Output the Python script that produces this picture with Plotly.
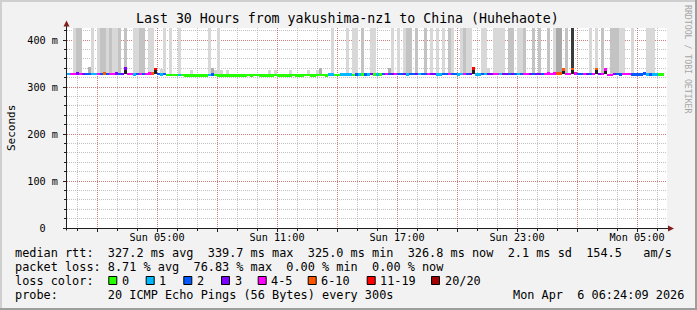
import plotly.graph_objects as go
import pandas as pd
import numpy as np

# ---------------- data ----------------
START = pd.Timestamp("2026-04-05 00:30")
END = pd.Timestamp("2026-04-06 06:30")
STEP_MIN = 9  # minutes per consolidated cell

# loss code per cell: index into LOSS_COLORS, ' ' = no data
loss_codes = (
    "1443432211" "4252443233" "4412424456" "2120000100" "0000000120"
    "0000000000" "0000000000" "0000000000" "0000000110" "0111102102"
    "1301024234" "2231223122" "4331122422" "1142361121" "3344133232"
    "1244323324" "4445554454" "2243245344" "4432244422" "222121100 "
)

median_ms = [
    328.0, 327.6, 328.4, 328.8, 328.2, 327.9, 328.5, 328.1, 327.7, 327.5,
    328.3, 328.0, 329.0, 328.6, 328.2, 328.4, 328.9, 328.1, 328.5, 339.7,
    328.6, 328.2, 327.4, 327.8, 328.4, 328.0, 328.3, 328.7, 329.1, 339.0,
    327.6, 327.3, 327.5, 326.3, 326.0, 326.2, 325.9, 326.4, 325.8, 325.3,
    325.1, 325.2, 325.0, 325.1, 325.3, 325.2, 325.1, 326.2, 326.6, 325.4,
    325.3, 325.2, 325.1, 325.2, 325.3, 325.1, 325.0, 325.2, 325.3, 325.2,
    325.4, 325.3, 326.3, 325.6, 325.3, 325.2, 325.1, 325.2, 325.3, 325.4,
    325.3, 325.2, 325.1, 325.3, 325.2, 325.4, 325.3, 325.2, 325.3, 325.5,
    325.4, 325.3, 325.2, 325.6, 325.9, 325.5, 325.3, 326.6, 326.8, 326.2,
    326.0, 326.9, 327.0, 326.8, 327.1, 326.4, 327.3, 327.0, 326.5, 327.4,
    327.2, 327.8, 326.9, 327.3, 326.8, 327.6, 328.0, 327.5, 327.9, 328.1,
    327.6, 327.8, 328.2, 327.4, 327.7, 327.9, 328.3, 327.5, 327.8, 327.6,
    328.1, 328.4, 328.0, 327.4, 327.2, 327.7, 327.9, 328.2, 327.6, 327.8,
    327.3, 327.5, 328.1, 327.8, 328.3, 339.5, 327.4, 327.2, 327.8, 327.5,
    328.0, 328.3, 328.5, 328.2, 327.6, 328.4, 328.1, 327.7, 328.2, 328.6,
    327.5, 327.8, 328.3, 328.5, 328.2, 327.8, 328.0, 328.4, 327.9, 328.6,
    328.8, 328.5, 328.7, 328.9, 329.0, 338.0, 328.6, 328.4, 338.5, 328.7,
    327.9, 327.6, 328.4, 328.1, 327.8, 328.5, 338.2, 328.3, 328.6, 337.5,
    325.8, 325.6, 327.9, 327.5, 327.3, 328.6, 328.2, 328.4, 327.4, 327.2,
    327.3, 327.1, 329.2, 327.0, 327.4, 326.9, 326.8, 326.6, 326.8, None,
]

# tall smoke (pings spread above the graph top): L light, M medium, D dark, K black
smoke_tall = (
    "  LMM   L " "LMMLMLLM M" "  LLMM LL " "  L L  L  " "       L  "
    "L         " "          " "          " "        L " "   L LL M "
    " LL     L " "L LMM M  M" " L L L ML " " LMLL   LL" "  LLLL MM "
    "LLM  M M  " "M LDD M K " "    L L M " " MMMLL  L " "   LLL    "
)
# short smoke just above the median: s light, S medium, k dark spike body
smoke_stub = (
    "       S  " "         k" "         k" " s        " " s      Ss"
    " s s      " "       s s" "    s     " "s  sS     " "          "
    "       S  " "          " "          " "     k    " "s         "
    "          " "     k  k " "      k  k" "          " "          "
)
STUB_HEIGHT = {"s": 12.0, "S": 14.0}

LOSS_COLORS = ["#26ff00", "#00b8ff", "#0059ff", "#7e00ff",
               "#ff00ff", "#ff5500", "#ff0000", "#a10000"]
LOSS_LABELS = ["0", "1", "2", "3", "4-5", "6-10", "11-19", "20/20"]
SMOKE_COLORS = {"L": "#d8d8d8", "M": "#c3c3c3", "D": "#aaaaaa", "K": "#3a3a3a",
                "s": "#d6d6d6", "S": "#b0b0b0", "k": "#1e1e1e"}

Y_TOP = 426.0
Y_TICKS = [0, 100, 200, 300, 400]
Y_TICKTEXT = ["0\u00a0\u00a0", "100\u00a0m", "200\u00a0m", "300\u00a0m", "400\u00a0m"]
X_TICKS = pd.date_range("2026-04-05 02:00", "2026-04-06 05:00", freq="3h")
X_TICKTEXT = ["", "Sun 05:00", "", "Sun 11:00", "", "Sun 17:00", "",
              "Sun 23:00", "", "Mon 05:00"]

TITLE = "Last 30 Hours from yakushima-nz1 to China (Huhehaote)"
LINE1 = "median rtt:  327.2 ms avg  339.7 ms max  325.0 ms min  326.8 ms now  2.1 ms sd  154.5   am/s"
LINE2 = "packet loss: 8.71 % avg  76.83 % max  0.00 % min  0.00 % now"
LINE3 = "loss color:"
LINE4 = "probe:       20 ICMP Echo Pings (56 Bytes) every 300s"
DATE_STR = "Mon Apr  6 06:24:09 2026"

N = len(median_ms)
assert len(loss_codes) == N and len(smoke_tall) == N and len(smoke_stub) == N

# ---------------- geometry ----------------
W, H = 697, 310
PL, PT, PW, PH = 67, 28, 600, 200
def PX(x):
    return (x - PL) / PW
def PY(y):
    return (PT + PH - y) / PH

MONO = "DejaVu Sans Mono"
AXIS_C = "#1f1f1f"
ARROW_C = "#801f1f"
GRID_C = "rgba(143,143,143,0.55)"
MGRID_C = "rgba(222,79,79,0.6)"

t_cent = [START + pd.Timedelta(minutes=STEP_MIN * (i + 0.5)) for i in range(N)]
bar_w = STEP_MIN * 60 * 1000
valid = [m for m in median_ms if m is not None]
typical = float(np.median(valid))

fig = go.Figure()

# tall smoke
idx = [i for i in range(N) if smoke_tall[i] != " " and median_ms[i] is not None]
fig.add_trace(go.Bar(
    x=[t_cent[i] for i in idx], base=[median_ms[i] for i in idx],
    y=[Y_TOP - median_ms[i] for i in idx], width=bar_w,
    marker=dict(color=[SMOKE_COLORS[smoke_tall[i]] for i in idx], line=dict(width=0)),
    opacity=1, hoverinfo="skip"))

# short smoke / spike bodies
idx = [i for i in range(N) if smoke_stub[i] != " " and median_ms[i] is not None]
bases, heights, cols = [], [], []
for i in idx:
    c = smoke_stub[i]
    if c == "k":
        bases.append(typical)
        heights.append(median_ms[i] - typical)
    else:
        bases.append(median_ms[i])
        heights.append(STUB_HEIGHT[c])
    cols.append(SMOKE_COLORS[c])
fig.add_trace(go.Bar(
    x=[t_cent[i] for i in idx], base=bases, y=heights, width=bar_w * 0.7,
    marker=dict(color=cols, line=dict(width=0)), opacity=1, hoverinfo="skip"))

# median line coloured by loss
idx = [i for i in range(N) if loss_codes[i] != " " and median_ms[i] is not None]
fig.add_trace(go.Bar(
    x=[t_cent[i] for i in idx], base=[median_ms[i] - 2.6 for i in idx],
    y=[5.2] * len(idx), width=bar_w,
    marker=dict(color=[LOSS_COLORS[int(loss_codes[i])] for i in idx], line=dict(width=0)),
    opacity=1, hoverinfo="skip"))

# ---------------- shapes ----------------
shapes = []
def rect(x0, y0, x1, y1, fill, line=None, lw=0):
    shapes.append(dict(type="rect", xref="paper", yref="paper",
                       x0=PX(x0), x1=PX(x1), y0=PY(y0), y1=PY(y1),
                       fillcolor=fill, line=dict(color=line or fill, width=lw),
                       layer="above"))
def seg(x0, y0, x1, y1, color, lw=1):
    shapes.append(dict(type="line", xref="paper", yref="paper",
                       x0=PX(x0), x1=PX(x1), y0=PY(y0), y1=PY(y1),
                       line=dict(color=color, width=lw), layer="above"))
def tri(pts, color):
    path = "M " + " L ".join(f"{PX(x)},{PY(y)}" for x, y in pts) + " Z"
    shapes.append(dict(type="path", xref="paper", yref="paper", path=path,
                       fillcolor=color, line=dict(color=color, width=0), layer="above"))

# frame
rect(0, 0, W, 2, "#cfcfcf")
rect(0, 0, 2, H, "#cfcfcf")
rect(0, H - 2, W, H, "#9e9e9e")
rect(W - 2, 0, W, H, "#9e9e9e")
# axes with arrows
seg(66.5, 230.5, 66.5, 24, AXIS_C)
seg(64, 228.5, 669, 228.5, AXIS_C)
tri([(63.5, 26.5), (69.5, 26.5), (66.5, 20.5)], ARROW_C)
tri([(668, 225.5), (668, 231.5), (674, 228.5)], ARROW_C)

# legend boxes
BOX_X = [108.3, 145.7, 183.3, 221.0, 257.7, 307.7, 366.7, 431.0]
for bx, col in zip(BOX_X, LOSS_COLORS):
    rect(bx + 0.5, 276.5, bx + 8.5, 284.5, col, "#000000", 1)

# ---------------- texts ----------------
ann = []
def text(x, y, s, size, anchor="left", color="#000000", angle=0):
    ann.append(dict(xref="paper", yref="paper", x=PX(x), y=PY(y),
                    text=s.replace(" ", "\u00a0"), showarrow=False,
                    xanchor=anchor, yanchor="middle", textangle=angle,
                    borderpad=0, borderwidth=0,
                    font=dict(family=MONO, size=size, color=color)))

LEG = 11.86
text(347.5, 18.7, TITLE, 13.25, anchor="center")
text(14.5, 253.2, LINE1, LEG)
text(14.5, 267.2, LINE2, LEG)
text(14.5, 281.2, LINE3, LEG)
for bx, lab in zip(BOX_X, LOSS_LABELS):
    text(bx + 13.5, 281.2, lab, LEG)
text(14.5, 295.2, LINE4, LEG)
text(513.0, 295.2, DATE_STR, LEG)
text(11, 128, "Seconds", 11, anchor="center", angle=-90)
text(688, 59, "RRDTOOL / TOBI OETIKER", 8.2, anchor="center", color="#a6a6a6", angle=90)

fig.update_layout(
    width=W, height=H, autosize=False,
    margin=dict(l=PL, r=W - PL - PW, t=PT, b=H - PT - PH, pad=0),
    paper_bgcolor="#f2f2f2", plot_bgcolor="#ffffff",
    barmode="overlay", bargap=0, showlegend=False, hovermode=False,
    shapes=shapes, annotations=ann,
    xaxis=dict(type="date", range=[START, END], tickmode="array",
               tickvals=list(X_TICKS), ticktext=X_TICKTEXT,
               showgrid=True, gridcolor=MGRID_C, griddash="1px,1px", gridwidth=1,
               ticks="outside", ticklen=3, tickcolor=AXIS_C, tickwidth=1,
               tickfont=dict(family=MONO, size=10.2, color="#000000"),
               ticklabelstandoff=-3,
               showline=False, zeroline=False, fixedrange=True,
               minor=dict(dtick=3600000, tick0="2026-04-05 00:00", showgrid=True,
                          gridcolor=GRID_C, griddash="1px,1px", gridwidth=1,
                          ticks="outside", ticklen=2, tickcolor=AXIS_C)),
    yaxis=dict(range=[0, Y_TOP], tickmode="array", tickvals=Y_TICKS, ticktext=Y_TICKTEXT,
               showgrid=True, gridcolor=MGRID_C, griddash="1px,1px", gridwidth=1,
               ticks="outside", ticklen=3, tickcolor=AXIS_C, tickwidth=1,
               tickfont=dict(family=MONO, size=10.2, color="#000000"),
               ticklabelstandoff=3,
               showline=False, zeroline=False, fixedrange=True,
               minor=dict(dtick=20, tick0=0, showgrid=True, gridcolor=GRID_C,
                          griddash="1px,1px", gridwidth=1,
                          ticks="outside", ticklen=2, tickcolor=AXIS_C)),
)

fig.write_html("out.html", config={"displayModeBar": False, "staticPlot": True})
